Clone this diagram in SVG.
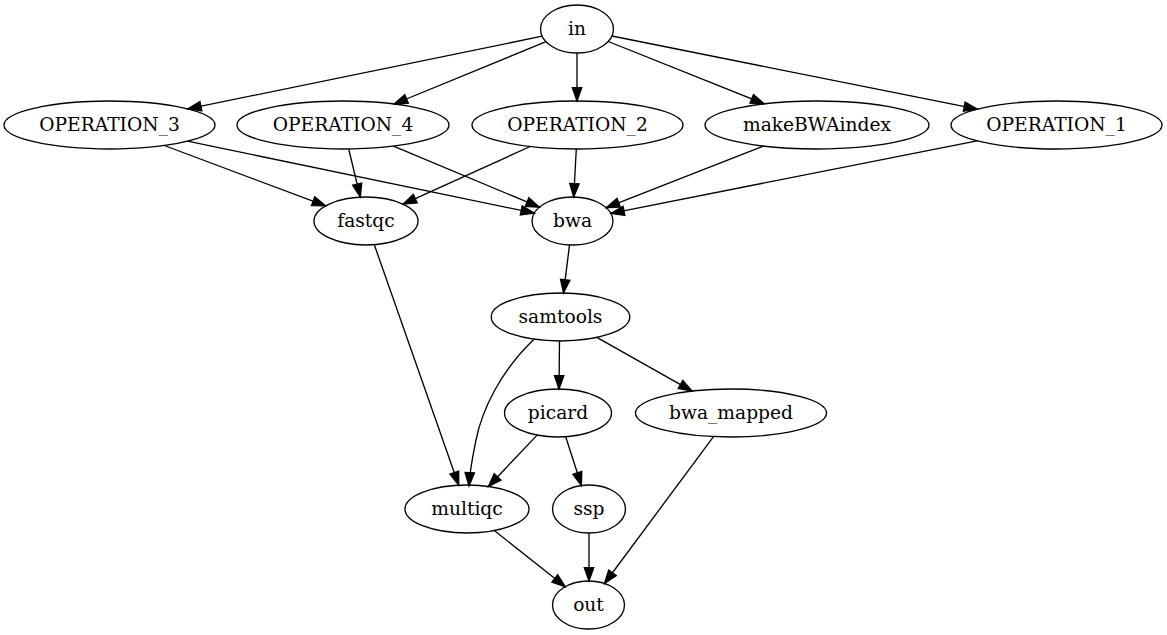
<svg xmlns="http://www.w3.org/2000/svg" width="1167" height="635" viewBox="0 0 1167 635">
  <style>
    .node ellipse { fill: none; stroke: #000; stroke-width: 1.33; }
    .node text { font-family: "DejaVu Serif", "Liberation Serif", serif; font-size: 18.67px; text-anchor: middle; fill: #000; }
    .edges path { fill: none; stroke: #000; stroke-width: 1.33; marker-end: url(#arrow); }
  </style>
  <defs>
    <marker id="arrow" markerUnits="userSpaceOnUse" markerWidth="20" markerHeight="20" refX="13.33" refY="0" orient="auto" overflow="visible">
      <path d="M0,-4.67 L13.33,0 L0,4.67 Z" fill="#000" stroke="#000" stroke-width="1.33"/>
    </marker>
  </defs>

  <rect width="1167" height="635" fill="#fff"/>

  <g class="edges">
    <path d="M542.2,36.2 L187.8,108.9"/>
    <path d="M546,41.7 L394.2,104"/>
    <path d="M577,53 L577,101"/>
    <path d="M608.2,41.5 L764.1,103.8"/>
    <path d="M611.9,36 L977.3,109.2"/>
    <path d="M164.3,145.5 L325.6,205.9"/>
    <path d="M187.5,141.2 L534.3,213.1"/>
    <path d="M348.7,149 L360.3,197.1"/>
    <path d="M393.5,146.1 L539.4,207.2"/>
    <path d="M530.2,146.5 L403.1,204.2"/>
    <path d="M576.3,149 L573.7,197"/>
    <path d="M763.3,146.1 L606.3,207.7"/>
    <path d="M977,140.8 L610.9,213.4"/>
    <path d="M569.5,244.9 L563.5,293"/>
    <path d="M374.3,244.7 L458.7,485.2"/>
    <path d="M533.5,339.8 C500,372 482,410 476,440 C473,455 470,468 469,486"/>
    <path d="M559.5,341 L559,389"/>
    <path d="M596.8,337.4 L692.1,391.1"/>
    <path d="M537.1,435.1 L488.4,486.5"/>
    <path d="M565.7,436.8 L581.4,485.5"/>
    <path d="M713.5,436.6 L604.5,583.5"/>
    <path d="M494.3,530.6 L565.3,586.7"/>
    <path d="M589,533 L589,581"/>
  </g>

  <g id="in" class="node">
    <ellipse cx="577" cy="29" rx="36.5" ry="24"/>
    <text x="577" y="35">in</text>
  </g>
  <g id="OPERATION_3" class="node">
    <ellipse cx="109.5" cy="125" rx="105.5" ry="24"/>
    <text x="109.5" y="131">OPERATION_3</text>
  </g>
  <g id="OPERATION_4" class="node">
    <ellipse cx="343" cy="125" rx="106" ry="24"/>
    <text x="343" y="131">OPERATION_4</text>
  </g>
  <g id="OPERATION_2" class="node">
    <ellipse cx="577.5" cy="125" rx="105.5" ry="24"/>
    <text x="577.5" y="131">OPERATION_2</text>
  </g>
  <g id="makeBWAindex" class="node">
    <ellipse cx="817" cy="125" rx="112" ry="24"/>
    <text x="817" y="131">makeBWAindex</text>
  </g>
  <g id="OPERATION_1" class="node">
    <ellipse cx="1056.5" cy="125" rx="105.5" ry="24"/>
    <text x="1056.5" y="131">OPERATION_1</text>
  </g>
  <g id="fastqc" class="node">
    <ellipse cx="366" cy="221" rx="52" ry="24"/>
    <text x="366" y="227">fastqc</text>
  </g>
  <g id="bwa" class="node">
    <ellipse cx="572.5" cy="221" rx="40.5" ry="24"/>
    <text x="572.5" y="227">bwa</text>
  </g>
  <g id="samtools" class="node">
    <ellipse cx="560.5" cy="317" rx="69.3" ry="24"/>
    <text x="560.5" y="323">samtools</text>
  </g>
  <g id="picard" class="node">
    <ellipse cx="558" cy="413" rx="53.5" ry="24"/>
    <text x="558" y="419">picard</text>
  </g>
  <g id="bwa_mapped" class="node">
    <ellipse cx="731" cy="413" rx="95.5" ry="24"/>
    <text x="731" y="419">bwa_mapped</text>
  </g>
  <g id="multiqc" class="node">
    <ellipse cx="467" cy="509" rx="62" ry="24"/>
    <text x="467" y="515">multiqc</text>
  </g>
  <g id="ssp" class="node">
    <ellipse cx="589" cy="509" rx="36.5" ry="24"/>
    <text x="589" y="515">ssp</text>
  </g>
  <g id="out" class="node">
    <ellipse cx="588.5" cy="605" rx="36" ry="24"/>
    <text x="588.5" y="611">out</text>
  </g>
</svg>
